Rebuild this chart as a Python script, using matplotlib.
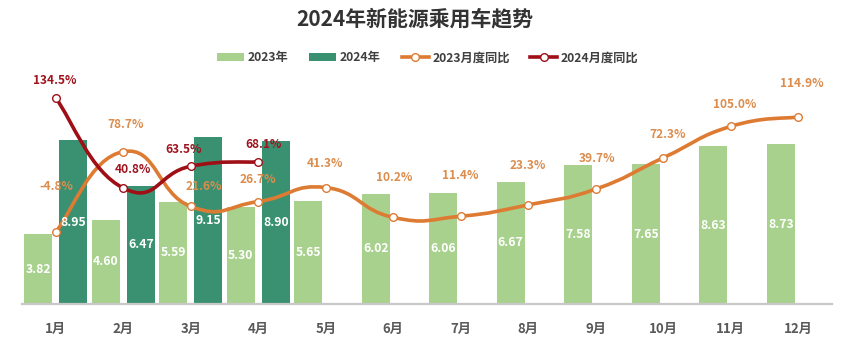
import matplotlib
matplotlib.use('Agg')
import matplotlib.pyplot as plt
from matplotlib.path import Path
from matplotlib.patches import PathPatch, Patch
from matplotlib.lines import Line2D
import numpy as np

plt.rcParams['font.family'] = ['Noto Sans CJK SC', 'DejaVu Sans']

months = ['1月', '2月', '3月', '4月', '5月', '6月', '7月', '8月', '9月', '10月', '11月', '12月']
sales_2023 = [3.82, 4.60, 5.59, 5.30, 5.65, 6.02, 6.06, 6.67, 7.58, 7.65, 8.63, 8.73]
sales_2024 = [8.95, 6.47, 9.15, 8.90]
yoy_2023 = [-4.8, 78.7, 21.6, 26.7, 41.3, 10.2, 11.4, 23.3, 39.7, 72.3, 105.0, 114.9]
yoy_2024 = [134.5, 40.8, 63.5, 68.1]
series_names = ['2023年', '2024年', '2023月度同比', '2024月度同比']

# styling
C23 = '#A9D18E'
C24 = '#3A9171'
CL23 = '#DD7B33'
CL23_TXT = '#DC8C4C'
CL24 = '#9E0F16'
CL24_TXT = '#A0141E'

# label offsets in pixels (dx, dy)
off23 = [(1, 45), (2, 27), (13, 20), (0, 22), (-1, 24), (1, 40), (-1, 41), (0, 39), (1, 31), (4, 23), (4, 22), (4, 33)]
off24 = [(-1, 18), (10, 19), (-7, 17), (5, 17)]

W, H = 852, 350
fig = plt.figure(figsize=(W / 100, H / 100), dpi=100)
ax = fig.add_axes([22 / W, (H - 304) / H, 810 / W, 234 / H])

x = np.arange(len(months))
bw = 0.415
off = 0.26
b23 = ax.bar(x - off, sales_2023, bw, color=C23, zorder=2)
x24 = np.arange(len(sales_2024))
b24 = ax.bar(x24 + off, sales_2024, bw, color=C24, zorder=2)

ax.set_xlim(-0.5, 11.5)
ax.set_ylim(0, 234 / 18.3)
for s in ['top', 'left', 'right']:
    ax.spines[s].set_visible(False)
ax.spines['bottom'].set_color('#C8C8C8')
ax.spines['bottom'].set_linewidth(1.6)
ax.set_yticks([])
ax.set_xticks(x)
ax.set_xticklabels(months, fontsize=9.5, fontweight='bold', color='#595959')
ax.tick_params(axis='x', length=0, pad=13)

ax2 = ax.twinx()
ax2.set_ylim(-80, -80 + 234 / 0.96)
ax2.set_xlim(-0.5, 11.5)
ax2.axis('off')


def smooth_path(xs, ys, k=0.25):
    pts = np.column_stack([xs, ys]).astype(float)
    n = len(pts)
    verts = [pts[0]]
    codes = [Path.MOVETO]
    for i in range(n - 1):
        p0 = pts[i - 1] if i > 0 else pts[i]
        p1 = pts[i]
        p2 = pts[i + 1]
        p3 = pts[i + 2] if i + 2 < n else pts[i + 1]
        c1 = p1 + (p2 - p0) * k
        c2 = p2 - (p3 - p1) * k
        verts += [c1, c2, p2]
        codes += [Path.CURVE4] * 3
    return Path(verts, codes)


for xs, ys, col, tcol, offs, z in ((x, yoy_2023, CL23, CL23_TXT, off23, 4),
                                    (x24, yoy_2024, CL24, CL24_TXT, off24, 5)):
    p = smooth_path(xs, ys)
    ax2.add_patch(PathPatch(p, facecolor='none', edgecolor=col, lw=2.6, zorder=z, capstyle='round'))
    ax2.plot(xs, ys, linestyle='none', marker='o', markersize=5.5, markerfacecolor='white',
             markeredgecolor=col, markeredgewidth=1.0, zorder=z + 0.5)
    for xi, yi, (dx, dy) in zip(xs, ys, offs):
        ax2.annotate(f'{yi:.1f}%', (xi, yi), xytext=(dx, dy), textcoords='offset pixels',
                     ha='center', va='center', color=tcol, fontsize=8.6, fontweight='bold', zorder=6)

# bar value labels on top layer
for bars, vals in ((b23, sales_2023), (b24, sales_2024)):
    for b, v in zip(bars, vals):
        ax2.text(b.get_x() + b.get_width() / 2, v / 2, f'{v:.2f}', ha='center', va='center',
                 color='white', fontsize=8.8, fontweight='bold', zorder=7, transform=ax.transData)

fig.text(415 / W, 1 - 19 / H, '2024年新能源乘用车趋势', ha='center', va='center',
         fontsize=15, fontweight='bold', color='#333333')

handles = [Patch(facecolor=C23, edgecolor='none'),
           Patch(facecolor=C24, edgecolor='none'),
           Line2D([], [], color=CL23, lw=2.6, marker='o', markersize=5.5, markerfacecolor='white', markeredgecolor=CL23),
           Line2D([], [], color=CL24, lw=2.6, marker='o', markersize=5.5, markerfacecolor='white', markeredgecolor=CL24)]
leg = fig.legend(handles, series_names, loc='center', bbox_to_anchor=(428 / W, 1 - 58 / H), ncol=4,
                 frameon=False, handlelength=2.2, handleheight=0.6, handletextpad=0.3, columnspacing=1.7,
                 prop={'size': 8.8, 'weight': 'bold'})
for t in leg.get_texts():
    t.set_color('#404040')

fig.savefig('out.png', dpi=100)
